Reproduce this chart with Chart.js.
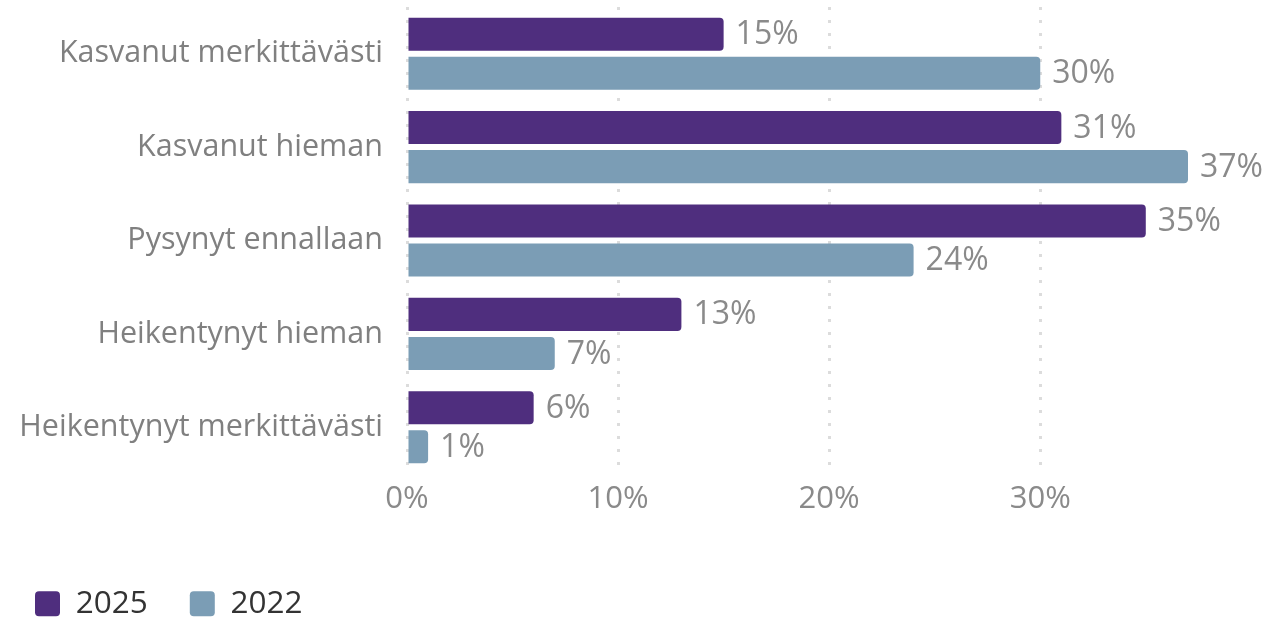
<!DOCTYPE html>
<html>
<head>
<meta charset="utf-8">
<script src="https://cdn.jsdelivr.net/npm/chart.js@4/dist/chart.umd.min.js"></script>
<style>
  html, body { margin: 0; padding: 0; background: #ffffff; }
  #wrap { width: 1266px; height: 619px; position: relative; }
</style>
</head>
<body>
<div id="wrap"><canvas id="chart"></canvas></div>
<script>
const categories = [
  'Kasvanut merkittävästi',
  'Kasvanut hieman',
  'Pysynyt ennallaan',
  'Heikentynyt hieman',
  'Heikentynyt merkittävästi'
];
const values2025 = [15, 31, 35, 13, 6];
const values2022 = [30, 37, 24, 7, 1];
const xTicks = [0, 10, 20, 30];

const FONT = "'Open Sans', sans-serif";
const PURPLE = '#4f2e7e';
const STEEL = '#7b9db5';

// Percentage labels written just past the end of each bar
const barValueLabels = {
  id: 'barValueLabels',
  afterDatasetsDraw(chart) {
    const ctx = chart.ctx;
    ctx.save();
    ctx.font = '32px ' + FONT;
    ctx.fillStyle = '#8a8a8a';
    ctx.textAlign = 'left';
    ctx.textBaseline = 'middle';
    chart.data.datasets.forEach((ds, i) => {
      const meta = chart.getDatasetMeta(i);
      meta.data.forEach((bar, j) => {
        ctx.fillText(ds.data[j] + '%', bar.x + 12, bar.y + 1);
      });
    });
    ctx.restore();
  }
};

// Fixed legend band height at the bottom of the canvas
const LEGEND_H = 73;
const legendBand = {
  id: 'legendBand',
  beforeInit(chart) {
    const lg = chart.legend;
    if (!lg) return;
    const origFit = lg.fit.bind(lg);
    lg.fit = function () {
      origFit();
      this.height = LEGEND_H;
      this.minSize = { width: this.width, height: LEGEND_H };
    };
  }
};

new Chart(document.getElementById('chart'), {
  type: 'bar',
  data: {
    labels: categories,
    datasets: [
      { label: '2025', data: values2025, backgroundColor: PURPLE, borderRadius: 4, borderSkipped: 'start' },
      { label: '2022', data: values2022, backgroundColor: STEEL, borderRadius: 4, borderSkipped: 'start' }
    ]
  },
  options: {
    indexAxis: 'y',
    responsive: true,
    maintainAspectRatio: false,
    animation: false,
    categoryPercentage: 0.836,
    barPercentage: 0.846,
    layout: { padding: { left: -7, right: 78, top: 7, bottom: 0 } },
    scales: {
      x: {
        min: 0,
        max: 37,
        afterBuildTicks(axis) {
          axis.ticks = xTicks.map(v => ({ value: v }));
        },
        afterFit(scale) { scale.height = 72; },
        grid: {
          color: '#dcdcdc',
          lineWidth: 3,
          tickLength: 0,
          drawTicks: false
        },
        border: { display: false, dash: [3, 10] },
        ticks: {
          padding: 7,
          color: '#8a8a8a',
          font: { family: FONT, size: 31 },
          callback: v => v + '%'
        }
      },
      y: {
        afterFit(scale) {
          scale.width = 414;
          scale.paddingTop = 0;
          scale.paddingBottom = 0;
        },
        border: { display: false },
        grid: { display: false, drawTicks: false },
        ticks: {
          padding: 24,
          color: '#808080',
          font: { family: FONT, size: 30.5 }
        }
      }
    },
    plugins: {
      legend: {
        position: 'bottom',
        align: 'start',
        labels: {
          color: '#333333',
          font: { family: FONT, size: 31.5 },
          boxWidth: 25,
          boxHeight: 25,
          useBorderRadius: true,
          borderRadius: 4,
          padding: 42
        }
      },
      tooltip: { enabled: false }
    }
  },
  plugins: [barValueLabels, legendBand]
});
</script>
</body>
</html>
